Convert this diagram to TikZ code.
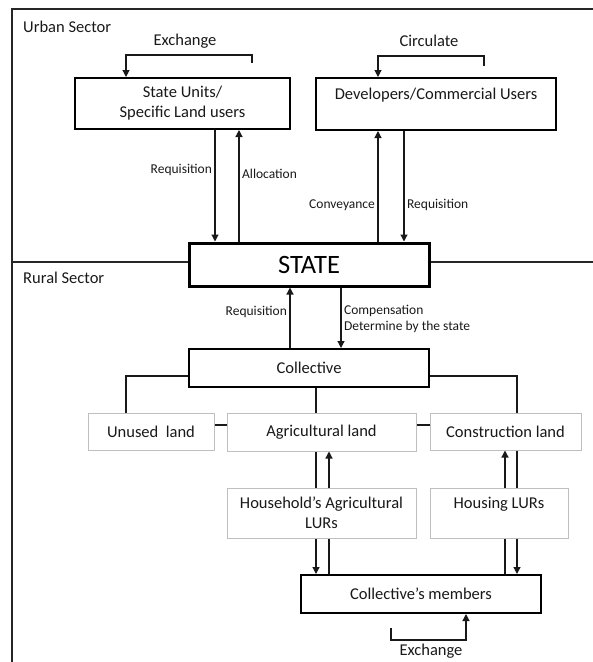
\documentclass[tikz,border=0pt]{standalone}
\usepackage{fontspec}
\setmainfont{Carlito}
\usetikzlibrary{arrows.meta}
\tikzset{
  frameline/.style={line width=1.5pt, draw=black!85},
  bigtxt/.style={font=\fontsize{16.5}{20}\selectfont, text=black!90},
  lbl/.style={font=\fontsize{13.5}{16}\selectfont, text=black!90, inner sep=2.5pt},
  thickbox/.style={draw=black, line width=2pt, fill=white, inner sep=0pt, align=center, bigtxt},
  statebox/.style={draw=black, line width=3pt, fill=white, inner sep=0pt, font=\fontsize{26.5}{30}\selectfont},
  landbox/.style={draw=black!25, line width=1pt, fill=white, inner sep=0pt, align=center, bigtxt},
  conn/.style={line width=1.2pt, draw=black!90},
  arr/.style={conn, -{Triangle[length=7pt,width=7pt]}}
}
\begin{document}
\begin{tikzpicture}[x=1pt,y=-1pt]
\useasboundingbox (0,0) rectangle (593,662);
% column coordinates
\foreach \c in {126,215,239,290,316,329,341,378,404,505,517}
  \coordinate (c\c) at (\c,0);
% frame
\draw[frameline] (593,9) -- (12,9) -- (12,662);
% boxes
\node[thickbox, minimum width=215pt, minimum height=51pt] (su) at (182.5,103.5) {State Units/\\Specific Land users};
\node[thickbox, minimum width=240pt, minimum height=52pt] (dev) at (436,104) {Developers/Commercial Users\\\mbox{}};
\node[statebox, minimum width=240pt, minimum height=43pt] (state) at (309,264.5) {STATE};
\node[thickbox, minimum width=240pt, minimum height=38pt] (coll) at (309,368) {Collective};
\node[landbox, minimum width=126pt, minimum height=37pt] (unused) at (151,431.5) {Unused\ \ land};
\node[landbox, minimum width=189pt, minimum height=38pt] (agri) at (321.5,432) {Agricultural land};
\node[landbox, minimum width=151pt, minimum height=37pt] (constr) at (505.5,431.5) {Construction land};
\node[landbox, minimum width=189pt, minimum height=50pt] (house) at (321.5,513) {Household’s Agricultural\\LURs};
\node[landbox, minimum width=138pt, minimum height=50pt] (housing) at (499,513) {Housing LURs\\\mbox{}};
\node[thickbox, minimum width=240pt, minimum height=38pt] (members) at (421,594) {Collective’s members};
% separator line
\coordinate (sepL) at (12,262);
\coordinate (sepR) at (593,262);
\draw[frameline] (sepL) -- (sepL -| state.west);
\draw[frameline] (sepR -| state.east) -- (sepR);
% sector labels
\node[bigtxt, anchor=west, inner sep=0pt] (urban) at (23,27) {Urban Sector};
\node[bigtxt, anchor=west, inner sep=0pt] (rural) at (23,278) {Rural Sector};
% loops
\node[bigtxt] (exT) at (185,41) {Exchange};
\coordinate (exA) at (252,63);
\coordinate (exB) at (126,55);
\draw[arr] (exA) |- (exB) -- (exB |- su.north);
\node[bigtxt] (ciT) at (429,41) {Circulate};
\coordinate (ciA) at (484,66);
\coordinate (ciB) at (378,56);
\draw[arr] (ciA) |- (ciB) -- (ciB |- dev.north);
\node[bigtxt] (exBt) at (431,651) {Exchange};
\coordinate (exC) at (391,628);
\coordinate (exD) at (466,640);
\draw[arr] (exC) |- (exD) -- (exD |- members.south);
% urban arrows
\draw[arr] (su.south -| c215) -- node[lbl, anchor=east, pos=0.36] {Requisition} (state.north -| c215);
\draw[arr] (state.north -| c239) -- node[lbl, anchor=west, pos=0.61] {Allocation} (su.south -| c239);
\draw[arr] (state.north -| c378) -- node[lbl, anchor=east, pos=0.33] {Conveyance} (dev.south -| c378);
\draw[arr] (dev.south -| c404) -- node[lbl, anchor=west, pos=0.67] {Requisition} (state.north -| c404);
% state - collective
\draw[arr] (coll.north -| c290) -- node[lbl, anchor=east, pos=0.6] {Requisition} (state.south -| c290);
\draw[arr] (state.south -| c341) -- node[lbl, anchor=west, pos=0.52, align=left] {Compensation\\Determine by the state} (coll.north -| c341);
% collective - lands
\draw[conn] ([yshift=-8pt]coll.west) -| (c126 |- unused.north);
\draw[conn] ([yshift=-8pt]coll.east) -| (c517 |- constr.north);
\draw[conn] (coll.south -| c316) -- (agri.north -| c316);
\draw[conn] ([yshift=6.5pt]unused.east) -- ([yshift=6.5pt]unused.east -| agri.west);
\draw[conn] ([yshift=7pt]agri.east) -- ([yshift=7pt]agri.east -| constr.west);
% lands - LURs - members
\draw[conn] (agri.south -| c316) -- (house.north -| c316);
\draw[arr] (house.south -| c316) -- (members.north -| c316);
\draw[conn] (members.north -| c329) -- (house.south -| c329);
\draw[arr] (house.north -| c329) -- (agri.south -| c329);
\draw[arr] (housing.north -| c505) -- (constr.south -| c505);
\draw[conn] (constr.south -| c517) -- (housing.north -| c517);
\draw[conn] (members.north -| c505) -- (housing.south -| c505);
\draw[arr] (housing.south -| c517) -- (members.north -| c517);
\end{tikzpicture}
\end{document}
